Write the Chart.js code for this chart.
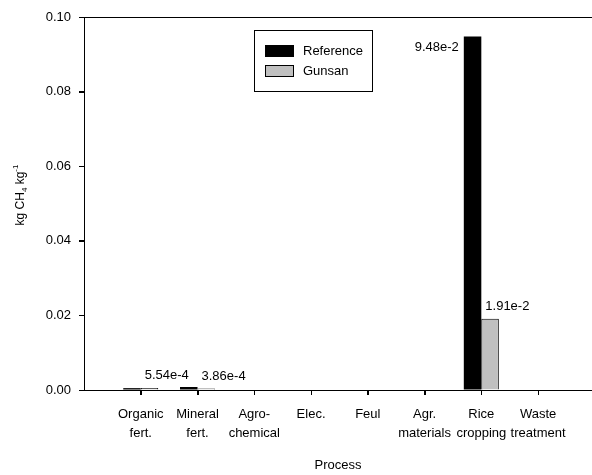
<!DOCTYPE html>
<html>
<head>
<meta charset="utf-8">
<script src="https://cdn.jsdelivr.net/npm/chart.js@4.4.0/dist/chart.umd.min.js"></script>
<style>
  html, body { margin: 0; padding: 0; background: #fff; }
  #wrap { width: 592px; height: 475px; }
</style>
</head>
<body>
<div id="wrap"><canvas id="chart"></canvas></div>
<script>
const categories = [
    ['Organic', 'fert.'], ['Mineral', 'fert.'], ['Agro-', 'chemical'], ['Elec.'],
    ['Feul'], ['Agr.', 'materials'], ['Rice', 'cropping'], ['Waste', 'treatment']
];
const referenceValues = [0.0005, 0.0008, 0, 0, 0, 0, 0.0948, 0];
const gunsanValues = [0.000554, 0.000386, 0, 0, 0, 0, 0.0191, 0];
const referenceLabels = [null, null, null, null, null, null, '9.48e-2', null];
const gunsanLabels = ['5.54e-4', '3.86e-4', null, null, null, null, '1.91e-2', null];
const yTicks = [0, 0.02, 0.04, 0.06, 0.08, 0.10];

const FONT = '"Liberation Sans", Arial, sans-serif';
Chart.defaults.font.family = FONT;
Chart.defaults.font.size = 13;
Chart.defaults.color = '#000';

// value labels, legend box, axis titles, tick marks and top frame line
const decorations = {
    id: 'decorations',
    afterDatasetsDraw(chart) {
        const ctx = chart.ctx;
        const area = chart.chartArea;
        ctx.save();
        ctx.fillStyle = '#000';
        ctx.font = '13px ' + FONT;

        const refBars = chart.getDatasetMeta(0).data;
        const gunBars = chart.getDatasetMeta(1).data;
        ctx.textAlign = 'right';
        ctx.textBaseline = 'alphabetic';
        referenceLabels.forEach((t, i) => {
            if (!t) return;
            const b = refBars[i];
            ctx.fillText(t, b.x - b.width / 2 - 5, b.y + 15);
        });
        ctx.textAlign = 'left';
        gunsanLabels.forEach((t, i) => {
            if (!t) return;
            const b = gunBars[i];
            ctx.fillText(t, b.x - b.width / 2 + 4, b.y - 9);
        });

        // frame line on top, tick marks
        ctx.strokeStyle = '#000';
        ctx.lineWidth = 1;
        ctx.beginPath();
        ctx.moveTo(area.left, area.top + 0.5);
        ctx.lineTo(area.right, area.top + 0.5);
        const xs = chart.scales.x;
        xs.ticks.forEach((t, i) => {
            const px = Math.round(xs.getPixelForTick(i)) + 0.5;
            ctx.moveTo(px, area.bottom);
            ctx.lineTo(px, area.bottom + 5);
        });
        const ys = chart.scales.y;
        ys.ticks.forEach((t, i) => {
            const py = Math.round(ys.getPixelForTick(i)) + 0.5;
            ctx.moveTo(area.left - 5, py);
            ctx.lineTo(area.left, py);
        });
        ctx.stroke();

        // legend
        ctx.strokeRect(254.5, 30.5, 118, 61);
        const sets = chart.data.datasets;
        const rows = [51, 71];
        sets.forEach((ds, i) => {
            const y = rows[i];
            ctx.fillStyle = ds.backgroundColor;
            ctx.fillRect(265, y - 6, 29, 12);
            ctx.strokeStyle = '#000';
            ctx.strokeRect(265.5, y - 5.5, 28, 11);
            ctx.fillStyle = '#000';
            ctx.textBaseline = 'middle';
            ctx.fillText(ds.label, 303, y);
        });

        // x title
        ctx.textAlign = 'center';
        ctx.fillText('Process', (area.left + area.right) / 2, 465);

        // y title with sub/superscript
        ctx.translate(20, 195);
        ctx.rotate(-Math.PI / 2);
        const parts = [
            { t: 'kg CH', s: 12, dy: 0 },
            { t: '4', s: 8, dy: 3 },
            { t: ' kg', s: 12, dy: 0 },
            { t: '-1', s: 8, dy: -6 }
        ];
        let total = 0;
        parts.forEach(p => { ctx.font = p.s + 'px ' + FONT; p.w = ctx.measureText(p.t).width; total += p.w; });
        let x = -total / 2;
        ctx.textAlign = 'left';
        ctx.textBaseline = 'alphabetic';
        parts.forEach(p => {
            ctx.font = p.s + 'px ' + FONT;
            ctx.fillText(p.t, x, 4 + p.dy);
            x += p.w;
        });
        ctx.restore();
    }
};

new Chart(document.getElementById('chart'), {
    type: 'bar',
    data: {
        datasets: [
            {
                label: 'Reference',
                data: referenceValues.map((v, i) => ({ x: i + 1, y: v })),
                backgroundColor: '#000000',
                borderWidth: 0
            },
            {
                label: 'Gunsan',
                data: gunsanValues.map((v, i) => ({ x: i + 1, y: v })),
                backgroundColor: '#c0c0c0',
                borderColor: '#000000',
                borderWidth: 1
            }
        ]
    },
    options: {
        responsive: true,
        maintainAspectRatio: false,
        animation: false,
        categoryPercentage: 0.617,
        barPercentage: 1,
        layout: { padding: { top: 17, left: 0, right: 0, bottom: 0 } },
        plugins: {
            legend: { display: false },
            tooltip: { enabled: false }
        },
        scales: {
            x: {
                type: 'linear',
                offset: false,
                min: 0,
                max: 8.95,
                afterBuildTicks: s => {
                    s.ticks = categories.map((c, i) => ({ value: i + 1 }));
                },
                afterFit: s => { s.height = 85; },
                border: { color: '#000', width: 1 },
                grid: { offset: false, drawOnChartArea: false, drawTicks: true, tickLength: 5, tickColor: '#000' },
                ticks: {
                    padding: 10,
                    maxRotation: 0,
                    autoSkip: false,
                    font: { size: 13, lineHeight: 1.45 },
                    callback: v => categories[v - 1] || ''
                }
            },
            y: {
                min: 0,
                max: 0.1,
                afterBuildTicks: s => {
                    s.ticks = yTicks.map(v => ({ value: v }));
                },
                afterFit: s => { s.width = 84; },
                border: { color: '#000', width: 1 },
                grid: { drawOnChartArea: false, tickLength: 5, tickColor: '#000' },
                ticks: {
                    padding: 8,
                    font: { size: 13 },
                    callback: v => v.toFixed(2)
                }
            }
        }
    },
    plugins: [decorations]
});
</script>
</body>
</html>
